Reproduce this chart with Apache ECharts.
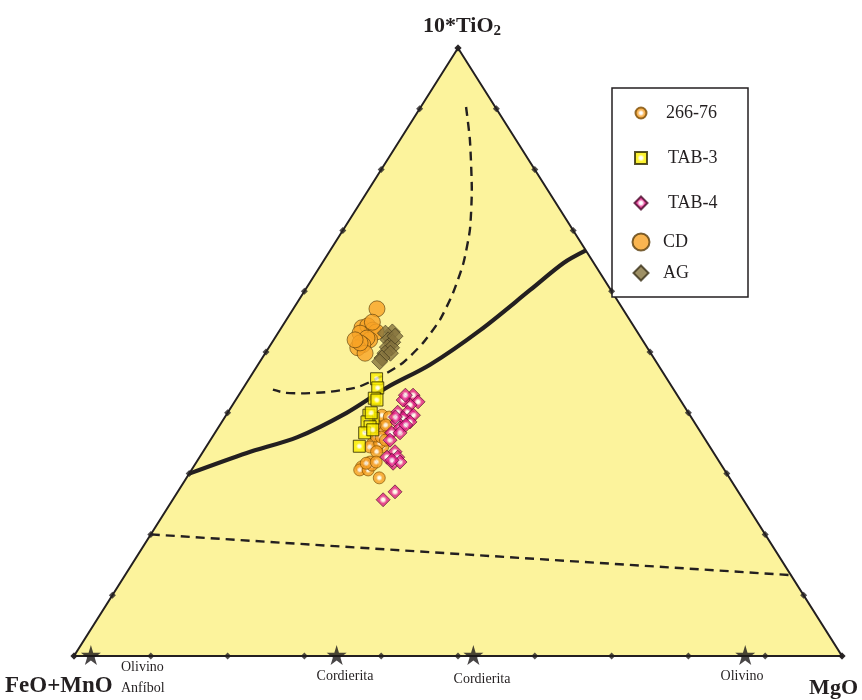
<!DOCTYPE html>
<html><head><meta charset="utf-8">
<script src="https://cdn.jsdelivr.net/npm/echarts/dist/echarts.min.js"></script>
<style>html,body{margin:0;padding:0;background:#fff}#c{width:862px;height:700px}</style>
</head><body><div id="c"></div>
<script>
// Compositions as [10*TiO2, FeO+MnO, MgO] in %
const s26676 = [[39.6,40.1,20.3],[39.3,39.3,21.4],[37.7,40.9,21.4],[36.7,41.8,21.5],[35.5,42.8,21.7],[35.0,43.6,21.4],[34.4,42.6,23.0],[34.2,43.5,22.3],[34.4,44.3,21.3],[35.0,42.7,22.3],[33.6,43.8,22.6],[31.9,45.5,22.6],[31.1,47.0,21.9],[30.6,47.5,21.9],[30.6,46.4,23.0],[31.4,45.5,23.1],[29.3,45.6,25.1],[36.2,42.6,21.2],[38.0,40.4,21.6],[38.0,41.8,20.2],[36.0,42.0,22.0],[35.5,41.7,22.8],[31.7,46.1,22.2],[31.9,44.7,23.4]];
const tab3 = [[45.6,37.8,16.6],[44.1,38.4,17.5],[42.4,39.7,17.9],[42.1,39.5,18.4],[39.1,41.5,19.4],[39.6,41.8,18.6],[38.5,42.6,18.9],[37.7,42.6,19.7],[36.7,43.8,19.5],[37.2,42.5,20.3],[34.5,45.6,19.9],[40.0,41.3,18.7]];
const tab4 = [[42.9,34.4,22.7],[41.8,34.3,23.9],[41.3,35.6,23.1],[42.1,36.1,21.8],[40.1,37.8,22.1],[40.1,36.5,23.4],[39.6,36.0,24.4],[39.1,37.6,23.3],[38.5,38.7,22.8],[38.5,37.0,24.5],[37.5,38.8,23.7],[36.7,40.3,23.0],[36.7,39.2,24.1],[33.6,41.4,25.0],[32.7,42.9,24.4],[32.7,41.5,25.8],[31.7,42.6,25.7],[31.9,41.6,26.5],[27.0,44.7,28.3],[25.7,46.9,27.4],[42.9,35.4,21.7],[39.3,38.5,22.2],[38.0,37.8,24.2],[35.5,41.1,23.4],[32.2,42.5,25.3]];
const cd = [[57.1,32.0,10.9],[54.0,35.5,10.5],[54.3,34.6,11.1],[53.6,34.3,12.1],[53.3,34.0,12.7],[53.1,36.2,10.7],[52.0,35.5,12.5],[52.3,35.7,12.0],[51.2,36.8,12.0],[50.7,37.7,11.6],[49.8,37.2,13.0],[51.5,37.0,11.5],[54.9,33.7,11.4],[52.0,37.4,10.6]];
const ag = [[53.3,31.9,14.8],[53.1,32.9,14.0],[52.0,33.1,14.9],[51.6,32.7,15.7],[50.8,33.8,15.4],[50.7,33.3,16.0],[49.8,34.6,15.6],[49.8,33.9,16.3],[49.0,35.4,15.6],[48.4,36.0,15.6],[52.6,31.9,15.5]];
// Boundary curves
const curvePrimSec = [[30,70,0],[33.4,60.8,5.8],[36.0,52.9,11.1],[40.0,44.5,15.5],[44.2,37.1,18.7],[47.9,29.7,22.4],[53.6,20.3,26.1],[60.2,10.5,29.3],[64.6,4.0,31.4],[66.7,0,33.3]];
const curveA = [[90.3,3.8,5.9],[84.9,6.0,9.1],[76.6,9.9,13.5],[70.1,13.4,16.5],[64.6,17.0,18.4],[59.7,20.8,19.5],[55.3,24.7,20.0],[51.5,28.8,19.7],[48.2,33.1,18.7],[45.9,37.2,16.9],[44.2,41.0,14.8],[43.4,45.4,11.2],[43.2,48.9,7.9],[43.3,50.9,5.8],[43.8,52.2,4.0]];
const lineBC = [[20,80,0],[13.3,0,86.7]];
// Reference minerals on the FeO+MnO – MgO join (MgO %)
const mineralNames = ['Olivino / Anfíbol','Cordierita','Cordierita','Olivino'];
const mineralMgO = [2.2,34.2,52.0,87.4];
const tickSteps = [0,10,20,30,40,50,60,70,80,90,100];
const corners = [[0,100,0],[100,0,0],[0,0,100]];

function tern(c){ const s=c[0]+c[1]+c[2]; const t=c[0]/s*100, m=c[2]/s*100; return [m+t/2, t]; }
const conv = a => a.map(tern);

const ticks = [];
tickSteps.forEach(v => { ticks.push(tern([v,100-v,0])); ticks.push(tern([0,100-v,v])); ticks.push(tern([v,0,100-v])); });
const stars = mineralMgO.map(m => tern([0,100-m,m]));

const ink = '#231f20';
const serif = '"Liberation Serif","DejaVu Serif",serif';
function rg(outer, edge){ return {type:'radial',x:0.5,y:0.5,r:0.5,colorStops:[{offset:0,color:'#fff'},{offset:0.18,color:'#fff'},{offset:0.5,color:outer},{offset:1,color:edge}]}; }

const chart = echarts.init(document.getElementById('c'), null, {renderer:'canvas'});
const legendCfg = [
  {name:'266-76', cy:113, w:11, tx:665},
  {name:'TAB-3', cy:158, w:12, tx:667},
  {name:'TAB-4', cy:203, w:13, tx:667},
  {name:'CD', cy:242, w:17, tx:662},
  {name:'AG', cy:273, w:15, tx:662}
];
const legends = legendCfg.map(l => ({
  data:[l.name], selectedMode:false, orient:'vertical', padding:0, itemGap:0,
  left: 640 - l.w/2, top: l.cy - 10, itemWidth:l.w, itemHeight:l.w,
  textStyle:{fontFamily:serif, fontSize:18, color:ink, lineHeight:20, padding:[0,0,0, l.tx-(640-l.w/2+l.w+5)]}
}));

const option = {
  animation:false,
  backgroundColor:'#fff',
  grid:{left:74, right:20, top:48, bottom:44},
  xAxis:{type:'value', min:0, max:100, show:false},
  yAxis:{type:'value', min:0, max:100, show:false},
  legend: legends,
  graphic:[
    {type:'rect', shape:{x:612,y:88,width:136,height:209}, style:{fill:'#fff', stroke:ink, lineWidth:1.5}, z:1},
    {type:'text', x:462, y:26, style:{text:'10*TiO{s|2}', rich:{s:{fontSize:15, fontWeight:'bold', fontFamily:serif, padding:[11,0,0,0]}}, font:'bold 22px '+serif, fill:ink, textAlign:'center', textVerticalAlign:'middle'}},
    {type:'text', x:5, y:686, style:{text:'FeO+MnO', font:'bold 23px '+serif, fill:ink, textVerticalAlign:'middle'}},
    {type:'text', x:858, y:688, style:{text:'MgO', font:'bold 22px '+serif, fill:ink, textAlign:'right', textVerticalAlign:'middle'}},
    {type:'text', x:121, y:667, style:{text:'Olivino', font:'14px '+serif, fill:ink, textVerticalAlign:'middle'}},
    {type:'text', x:121, y:688, style:{text:'Anfíbol', font:'14px '+serif, fill:ink, textVerticalAlign:'middle'}},
    {type:'text', x:345, y:676, style:{text:'Cordierita', font:'14px '+serif, fill:ink, textAlign:'center', textVerticalAlign:'middle'}},
    {type:'text', x:482, y:679, style:{text:'Cordierita', font:'14px '+serif, fill:ink, textAlign:'center', textVerticalAlign:'middle'}},
    {type:'text', x:742, y:676, style:{text:'Olivino', font:'14px '+serif, fill:ink, textAlign:'center', textVerticalAlign:'middle'}},
    {type:'text', x:405, y:207, style:{text:'A', font:'bold 25px '+serif, fill:ink, textAlign:'center', textVerticalAlign:'middle'}},
    {type:'text', x:510, y:486, style:{text:'B', font:'bold 25px '+serif, fill:ink, textAlign:'center', textVerticalAlign:'middle'}},
    {type:'text', x:563, y:627, style:{text:'C', font:'bold 25px '+serif, fill:ink, textAlign:'center', textVerticalAlign:'middle'}},
    {type:'text', x:522, y:238, style:{text:'Biotitas\nprimarias', font:'19px '+serif, lineHeight:23, fill:ink, textAlign:'center', textVerticalAlign:'middle'}},
    {type:'text', x:646, y:456, style:{text:'Biotitas\nsecundarias', font:'19px '+serif, lineHeight:23, fill:ink, textAlign:'center', textVerticalAlign:'middle'}}
  ],
  series:[
    {type:'custom', silent:true, clip:false, z:0, data:[[0,0]],
      renderItem:function(params, api){
        const pts = conv(corners).map(p => api.coord(p));
        return {type:'polygon', shape:{points:pts}, style:{fill:'#fcf39c', stroke:ink, lineWidth:2}};
      }},
    {type:'line', name:'BC', silent:true, data:conv(lineBC), symbol:'none', lineStyle:{color:ink, width:2.4, type:[9,6]}, z:2},
    {type:'line', name:'A', silent:true, data:conv(curveA), smooth:0.2, symbol:'none', lineStyle:{color:ink, width:2.4, type:[9,6]}, z:2},
    {type:'line', name:'PS', silent:true, data:conv(curvePrimSec), smooth:0.3, symbol:'none', lineStyle:{color:ink, width:4.2}, z:2},
    {type:'scatter', name:'ticks', silent:true, data:ticks, symbol:'diamond', symbolSize:7, itemStyle:{color:ink}, z:3},
    {type:'scatter', name:'minerals', silent:true, data:stars, symbol:'path://M50,0 L61,35 L98,35 L68,57 L79,91 L50,70 L21,91 L32,57 L2,35 L39,35 Z', symbolSize:20, symbolOffset:[0,-1], itemStyle:{color:'#1a1718'}, z:3},
    {type:'scatter', name:'CD', data:conv(cd), symbol:'circle', symbolSize:16, itemStyle:{color:'#f7a226', borderColor:'#5a3d0c', borderWidth:0.8}, z:4},
    {type:'scatter', name:'AG', data:conv(ag), symbol:'diamond', symbolSize:16, itemStyle:{color:'#86743e', borderColor:'#3a3118', borderWidth:0.8}, z:4},
    {type:'scatter', name:'266-76', data:conv(s26676), symbol:'circle', symbolSize:12, itemStyle:{color:rg('#f7a22c','#f29a1c'), borderColor:'#7a4a00', borderWidth:0.8}, z:5},
    {type:'scatter', name:'TAB-4', data:conv(tab4), symbol:'diamond', symbolSize:14, itemStyle:{color:rg('#e5218a','#d81b7e'), borderColor:'#4a0a2a', borderWidth:0.8}, z:6},
    {type:'scatter', name:'TAB-3', data:conv(tab3), symbol:'rect', symbolSize:12, itemStyle:{color:rg('#fff200','#f5e800'), borderColor:'#2a2600', borderWidth:1}, z:7}
  ]
};
chart.setOption(option);
</script></body></html>
